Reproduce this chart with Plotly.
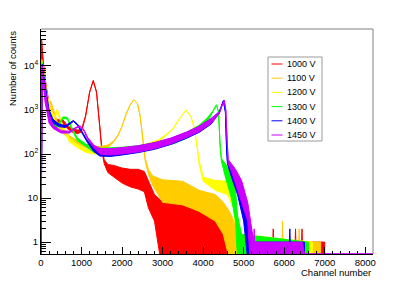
import plotly.graph_objects as go

# ---------------- data ----------------
# channel positions and lower / upper envelope of counts for each voltage
CH_1000 = [0, 15, 60, 120, 200, 300, 400, 540, 650, 750, 900, 1000, 1100, 1200, 1290, 1370, 1450, 1500, 1560,
           1650, 1800, 2000, 2200, 2400, 2550, 2650, 2800, 2950, 3000, 3500, 4000, 4300, 4450, 4550, 5720, 5730,
           5740, 6270, 6280, 6290, 6430, 6440, 6450, 7000]
LO_1000 = [0.54, 30000, 8000, 2500, 900, 550, 480, 480, 380, 320, 290, 320, 700, 2500, 4600, 2500, 400, 120, 60,
           38, 30, 22, 18, 16, 14, 6, 3, 0.4, 0.4, 0.4, 0.4, 0.4, 0.4, 0.4, 0.4, 0.4,
           0.4, 0.4, 0.4, 0.4, 0.4, 0.4, 0.4, 0.4]
HI_1000 = [0.54, 40000, 12000, 4000, 1400, 750, 600, 600, 450, 380, 350, 360, 750, 2600, 4700, 2600, 450, 140, 75,
           58, 55, 48, 45, 45, 40, 25, 12, 9, 9, 8, 7, 5, 2, 1, 1, 2,
           1, 1, 2, 1, 1, 2, 1, 1]

CH_1100 = [0, 20, 60, 120, 180, 240, 300, 400, 550, 700, 900, 1100, 1300, 1500, 1650, 1800, 1900, 2000, 2100,
           2200, 2290, 2380, 2450, 2520, 2570, 2650, 2750, 3000, 3500, 3900, 4300, 4500, 4650, 4850, 5000,
           5950, 5960, 5970, 6360, 6370, 6380, 6900]
LO_1100 = [0.54, 10000, 6000, 2000, 1100, 1400, 900, 450, 300, 220, 170, 140, 125, 125, 140, 190, 260, 420, 800,
           1300, 1700, 1400, 700, 180, 70, 35, 20, 8, 7, 5, 3, 1.5, 0.4, 0.4, 0.4,
           0.4, 0.4, 0.4, 0.4, 0.4, 0.4, 0.4]
HI_1100 = [0.54, 14000, 9000, 3000, 1400, 1600, 1100, 550, 360, 260, 200, 165, 150, 150, 160, 200, 270, 430, 820,
           1320, 1720, 1420, 720, 190, 80, 45, 32, 26, 24, 15, 12, 8, 5, 2, 1,
           1, 3, 1, 1, 2, 1, 1]

CH_1200 = [0, 25, 80, 150, 250, 330, 400, 470, 550, 700, 900, 1100, 1300, 1500, 1800, 2100, 2400, 2700, 2900,
           3100, 3250, 3400, 3580, 3700, 3780, 3850, 3900, 3950, 4000, 4300, 4600, 4750, 4820, 4900, 6700]
LO_1200 = [0.54, 9000, 4000, 1500, 800, 600, 950, 600, 350, 190, 140, 110, 100, 100, 105, 115, 130, 160, 190,
           270, 360, 600, 1000, 700, 400, 150, 60, 40, 24, 15, 12, 6, 2, 0.4, 0.4]
HI_1200 = [0.54, 12000, 6000, 2200, 1000, 700, 1050, 700, 420, 230, 165, 130, 118, 118, 125, 135, 150, 180, 210,
           285, 370, 610, 1010, 710, 410, 160, 70, 50, 30, 25, 24, 15, 5, 1.5, 1]

CH_1300 = [0, 25, 80, 150, 250, 400, 550, 650, 750, 900, 1100, 1300, 1500, 1800, 2100, 2400, 2700, 3000, 3300,
           3600, 3900, 4100, 4230, 4330, 4380, 4420, 4450, 4550, 4700, 4800, 4850, 4950, 6600]
LO_1300 = [0.54, 9000, 3000, 1000, 500, 380, 650, 620, 380, 200, 150, 110, 100, 100, 105, 112, 125, 145, 175,
           230, 340, 520, 850, 1300, 900, 150, 70, 30, 10, 3, 0.4, 0.4, 0.4]
HI_1300 = [0.54, 12000, 5000, 1500, 650, 450, 700, 680, 420, 230, 170, 145, 135, 138, 145, 155, 172, 200, 240,
           310, 450, 660, 920, 1320, 920, 160, 80, 60, 35, 15, 4, 1.5, 1]

CH_1400 = [0, 30, 100, 200, 300, 450, 600, 800, 900, 1000, 1150, 1300, 1450, 1700, 2000, 2400, 2800, 3200, 3600,
           3900, 4200, 4400, 4500, 4550, 4580, 4600, 4700, 4850, 5000, 5100, 5200, 6130, 6140, 6150, 6500]
LO_1400 = [0.54, 8000, 2000, 700, 500, 420, 400, 550, 450, 300, 180, 115, 90, 88, 95, 108, 128, 165, 230,
           310, 480, 850, 1600, 900, 120, 60, 30, 12, 3, 0.4, 0.4, 0.4, 0.4, 0.4, 0.4]
HI_1400 = [0.54, 11000, 4000, 1000, 600, 480, 440, 580, 480, 330, 200, 140, 125, 122, 132, 150, 178, 225, 310,
           410, 620, 930, 1650, 920, 130, 70, 55, 30, 10, 3, 1, 1, 2, 1, 1]

CH_1450 = [0, 30, 100, 200, 300, 500, 700, 850, 960, 1050, 1150, 1300, 1450, 1700, 2000, 2400, 2800, 3200, 3600,
           3900, 4200, 4400, 4520, 4560, 4590, 4620, 4700, 4800, 4950, 5100, 5150, 5250, 5260, 5270, 6450, 6500,
           8192]
LO_1450 = [0.54, 8000, 1500, 500, 380, 300, 300, 380, 420, 350, 220, 140, 100, 95, 100, 112, 132, 170, 240,
           320, 500, 830, 1650, 1000, 200, 60, 40, 20, 8, 3, 0.54, 0.54, 0.54, 0.54, 0.54, 0.54, 0.54]
HI_1450 = [0.54, 10000, 3000, 800, 450, 340, 330, 400, 440, 370, 240, 160, 135, 132, 140, 155, 182, 230, 320,
           430, 650, 900, 1680, 1020, 220, 75, 60, 45, 25, 8, 4, 1, 2, 1, 1, 0.54, 0.54]

NAMES = ["1000 V", "1100 V", "1200 V", "1300 V", "1400 V", "1450 V"]
COLORS = ["#ff0000", "#ffcc00", "#ffff00", "#00ff00", "#0000ff", "#cc00ff"]
CHANNELS = [CH_1000, CH_1100, CH_1200, CH_1300, CH_1400, CH_1450]
LOWS = [LO_1000, LO_1100, LO_1200, LO_1300, LO_1400, LO_1450]
HIGHS = [HI_1000, HI_1100, HI_1200, HI_1300, HI_1400, HI_1450]

X_TICKS = [0, 1000, 2000, 3000, 4000, 5000, 6000, 7000, 8000]
Y_TICKS = [1, 10, 100, 1000, 10000]
Y_TICK_TEXT = ["1", "10", "10<sup>2</sup>", "10<sup>3</sup>", "10<sup>4</sup>"]

X_TITLE = "Channel number"
Y_TITLE = "Number of counts"

# ---------------- figure ----------------
FONT = "Liberation Sans, Arial, Helvetica, sans-serif"
fig = go.Figure()

for name, color, ch, lo, hi in zip(NAMES, COLORS, CHANNELS, LOWS, HIGHS):
    xs = list(ch) + list(ch)[::-1]
    ys = list(hi) + list(lo)[::-1]
    fig.add_trace(go.Scatter(
        x=xs, y=ys, mode="lines", name=name, fill="toself",
        fillcolor=color, line=dict(color=color, width=1),
        showlegend=False, hoverinfo="skip",
    ))

# the page body has an 8px margin, so the figure is drawn 8px smaller and offset
OFF = 8
W, H = 415 - OFF, 284 - OFF
ML, MR, MT, MB = 41 - OFF, 42, 29 - OFF, 30
PW, PH = W - ML - MR, H - MT - MB


def px_x(x):
    return (x - OFF - ML) / PW


def px_y(y):
    return (H - MB - (y - OFF)) / PH


shapes = []
annotations = []

# frame top / right
shapes.append(dict(type="line", xref="paper", yref="paper", x0=0, x1=1, y0=1, y1=1,
                   line=dict(color="#808080", width=1)))
shapes.append(dict(type="line", xref="paper", yref="paper", x0=1, x1=1, y0=0, y1=1,
                   line=dict(color="#808080", width=1)))

# legend box
LX0, LX1, LY0, LY1 = 268, 322, 57, 141
shapes.append(dict(type="rect", xref="paper", yref="paper",
                   x0=px_x(LX0), x1=px_x(LX1), y0=px_y(LY1), y1=px_y(LY0),
                   line=dict(color="#9a9a9a", width=1), fillcolor="white", layer="above"))
for i, (name, color) in enumerate(zip(NAMES, COLORS)):
    yy = 64 + i * 14.2
    shapes.append(dict(type="line", xref="paper", yref="paper",
                       x0=px_x(271.5), x1=px_x(282.5), y0=px_y(yy), y1=px_y(yy),
                       line=dict(color=color, width=1), layer="above"))
    annotations.append(dict(text=name, xref="paper", yref="paper", x=px_x(285), y=px_y(yy),
                            xanchor="left", yanchor="middle", showarrow=False,
                            font=dict(family=FONT, size=9, color="black")))

# axis titles (ROOT style: right/top aligned)
annotations.append(dict(text=X_TITLE, xref="paper", yref="paper", x=px_x(373), y=px_y(272),
                        xanchor="right", yanchor="middle", showarrow=False,
                        font=dict(family=FONT, size=9.5, color="black")))
annotations.append(dict(text=Y_TITLE, xref="paper", yref="paper", x=px_x(12.5), y=px_y(29),
                        xanchor="center", yanchor="top", textangle=-90, showarrow=False,
                        font=dict(family=FONT, size=9.5, color="black")))

fig.update_layout(
    width=W, height=H,
    margin=dict(l=ML, r=MR, t=MT, b=MB, pad=0, autoexpand=False),
    paper_bgcolor="white", plot_bgcolor="white",
    showlegend=False,
    shapes=shapes, annotations=annotations,
    font=dict(family=FONT, size=9, color="black"),
    xaxis=dict(range=[0, 8192], tickvals=X_TICKS, ticks="inside", ticklen=7, tickwidth=1,
               tickcolor="black", showline=True, linecolor="black", linewidth=1,
               showgrid=False, zeroline=False,
               tickfont=dict(family=FONT, size=9.5, color="black"),
               minor=dict(dtick=200, ticks="inside", ticklen=3.5, tickcolor="black", showgrid=False)),
    yaxis=dict(type="log", range=[-0.27, 4.84], tickvals=Y_TICKS, ticktext=Y_TICK_TEXT,
               ticks="inside", ticklen=10, tickwidth=1, tickcolor="black",
               showline=True, linecolor="black", linewidth=1, showgrid=False, zeroline=False,
               tickfont=dict(family=FONT, size=9.5, color="black"),
               minor=dict(dtick="D1", ticks="inside", ticklen=5, tickcolor="black", showgrid=False)),
)

fig.write_html("out.html")
